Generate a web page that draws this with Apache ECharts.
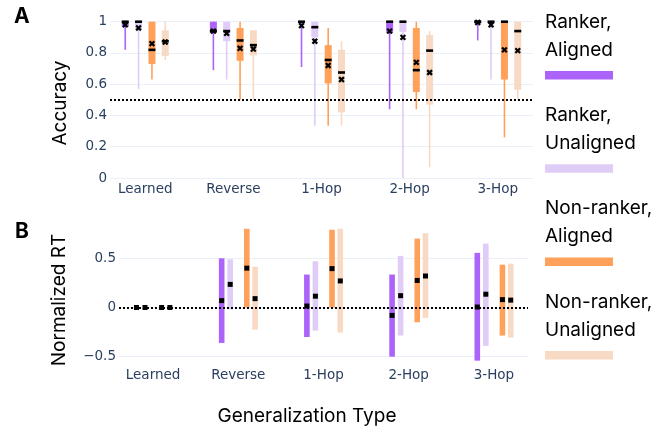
<!DOCTYPE html>
<html>
<head>
<meta charset="utf-8">
<script src="https://cdn.jsdelivr.net/npm/echarts@6/dist/echarts.min.js"></script>
<style>
  html, body { margin: 0; padding: 0; background: #fff; }
  #main { width: 669px; height: 428px; }
</style>
</head>
<body>
<div id="main"></div>
<script>
const categories = ['Learned', 'Reverse', '1-Hop', '2-Hop', '3-Hop'];
const groups = ['Ranker, Aligned', 'Ranker, Unaligned', 'Non-ranker, Aligned', 'Non-ranker, Unaligned'];

// accuracy per category: [min, q1, median, q3, max, mean]
const accRankerAligned = [
    [0.82, 0.97, 1.0, 1.0, 1.0, 0.98],
    [0.69, 0.93, 0.94, 1.0, 1.0, 0.94],
    [0.71, 0.99, 1.0, 1.0, 1.0, 0.975],
    [0.44, 0.93, 1.0, 1.0, 1.0, 0.94],
    [0.88, 0.99, 1.0, 1.0, 1.0, 0.995]
];
const accRankerUnaligned = [
    [0.57, 0.95, 1.0, 1.0, 1.0, 0.96],
    [0.63, 0.875, 0.94, 1.0, 1.0, 0.925],
    [0.335, 0.9, 0.965, 1.0, 1.0, 0.875],
    [0.0, 0.935, 1.0, 1.0, 1.0, 0.9],
    [0.63, 0.985, 1.0, 1.0, 1.0, 0.98]
];
const accNonRankerAligned = [
    [0.63, 0.73, 0.82, 1.0, 1.0, 0.86],
    [0.5, 0.75, 0.88, 0.96, 1.0, 0.83],
    [0.335, 0.605, 0.755, 0.85, 0.96, 0.72],
    [0.44, 0.55, 0.69, 0.96, 1.0, 0.74],
    [0.26, 0.63, 1.0, 1.0, 1.0, 0.82]
];
const accNonRankerUnaligned = [
    [0.755, 0.78, 0.875, 0.945, 1.0, 0.87],
    [0.5, 0.785, 0.85, 0.945, 0.945, 0.825],
    [0.335, 0.42, 0.675, 0.82, 0.875, 0.63],
    [0.07, 0.47, 0.815, 0.915, 0.94, 0.675],
    [0.5, 0.565, 0.94, 1.0, 1.0, 0.815]
];

// normalized RT per category: [low, median, high]
const rtRankerAligned = [[0, 0, 0], [-0.36, 0.07, 0.5], [-0.3, 0.015, 0.335], [-0.5, -0.08, 0.335], [-0.54, 0.005, 0.555]];
const rtRankerUnaligned = [[0, 0, 0], [-0.02, 0.235, 0.49], [-0.235, 0.115, 0.47], [-0.285, 0.12, 0.525], [-0.39, 0.135, 0.65]];
const rtNonRankerAligned = [[0, 0, 0], [0, 0.4, 0.8], [0, 0.395, 0.79], [-0.15, 0.275, 0.7], [-0.285, 0.08, 0.435]];
const rtNonRankerUnaligned = [[0, 0, 0], [-0.225, 0.09, 0.415], [-0.255, 0.27, 0.8], [-0.105, 0.32, 0.755], [-0.305, 0.075, 0.445]];

const accTicks = [0, 0.2, 0.4, 0.6, 0.8, 1];
const rtTicks = [-0.5, 0, 0.5];
const chanceLevel = 0.5;
const rtBaseline = 0;

const accData = [accRankerAligned, accRankerUnaligned, accNonRankerAligned, accNonRankerUnaligned];
const rtData = [rtRankerAligned, rtRankerUnaligned, rtNonRankerAligned, rtNonRankerUnaligned];

const colors = ['#ab63fa', '#e0cdf7', '#ffa15a', '#f8d9c3'];
const boxOffsets = [-0.227, -0.076, 0.076, 0.227];
const rtOffsets = [-0.195, -0.095, 0.1, 0.197];
const tickColor = '#2a3f5f';
const gridColor = '#ebf0f8';

function makeBoxRenderer(offset, color) {
    return function (params, api) {
        const x = api.value(0) + offset;
        const p = k => api.coord([x, api.value(k)]);
        const lo = p(1), q1 = p(2), med = p(3), q3 = p(4), hi = p(5), mean = p(6);
        const cx = lo[0], w = 7, s = 2.4;
        return {
            type: 'group',
            children: [
                {type: 'rect', shape: {x: cx - 0.8, y: hi[1], width: 1.6, height: lo[1] - hi[1]}, style: {fill: color}},
                {type: 'rect', shape: {x: cx - w / 2, y: q3[1], width: w, height: q1[1] - q3[1]}, style: {fill: color}},
                {type: 'rect', shape: {x: cx - w / 2, y: med[1] - 1.3, width: w, height: 2.6}, style: {fill: '#000'}},
                {type: 'line', shape: {x1: cx - s, y1: mean[1] - s, x2: cx + s, y2: mean[1] + s}, style: {stroke: '#000', lineWidth: 2.2}},
                {type: 'line', shape: {x1: cx - s, y1: mean[1] + s, x2: cx + s, y2: mean[1] - s}, style: {stroke: '#000', lineWidth: 2.2}}
            ]
        };
    };
}

function makeRangeRenderer(offset, color) {
    return function (params, api) {
        const x = api.value(0) + offset;
        const lo = api.coord([x, api.value(1)]);
        const med = api.coord([x, api.value(2)]);
        const hi = api.coord([x, api.value(3)]);
        const cx = lo[0], w = 5.6, m = 5;
        return {
            type: 'group',
            children: [
                {type: 'rect', shape: {x: cx - w / 2, y: hi[1], width: w, height: lo[1] - hi[1]}, style: {fill: color}},
                {type: 'rect', shape: {x: cx - m / 2, y: med[1] - m / 2, width: m, height: m}, style: {fill: '#000'}}
            ]
        };
    };
}

const tickFont = {color: tickColor, fontFamily: 'DejaVu Sans', fontSize: 13.5};

const series = [];
accData.forEach((rows, g) => {
    series.push({
        name: groups[g],
        type: 'custom',
        xAxisIndex: 0,
        yAxisIndex: 0,
        renderItem: makeBoxRenderer(boxOffsets[g], colors[g]),
        data: rows.map((d, i) => [i].concat(d))
    });
});
rtData.forEach((rows, g) => {
    series.push({
        name: groups[g],
        type: 'custom',
        xAxisIndex: 1,
        yAxisIndex: 1,
        renderItem: makeRangeRenderer(rtOffsets[g], colors[g]),
        data: rows.map((d, i) => [i].concat(d))
    });
});
const dotted = {color: '#000', type: [2, 2], width: 1.8};
series.push({
    type: 'line', xAxisIndex: 0, yAxisIndex: 0, data: [], z: 10,
    markLine: {silent: true, symbol: 'none', label: {show: false}, lineStyle: dotted, data: [{yAxis: chanceLevel}]}
});
series.push({
    type: 'line', xAxisIndex: 1, yAxisIndex: 1, data: [], z: 1,
    markLine: {silent: true, symbol: 'none', label: {show: false}, lineStyle: dotted, data: [{yAxis: rtBaseline}]}
});

const legendItems = [];
groups.forEach((name, k) => {
    const dy = 93.3 * k;
    legendItems.push({
        type: 'text',
        style: {x: 545, y: 36 + dy, text: name.replace(', ', ',\n'), font: '19px Inter', lineHeight: 28, verticalAlign: 'middle', fill: '#000'}
    });
    legendItems.push({
        type: 'rect',
        shape: {x: 545, y: 71 + dy, width: 68, height: 8.5},
        style: {fill: colors[k]}
    });
});

const xAxisBase = {
    type: 'value',
    min: -0.4,
    max: 4.4,
    axisLine: {show: false},
    axisTick: {show: false},
    splitLine: {show: false}
};

const option = {
    animation: false,
    grid: [
        {left: 110, right: 136, top: 21.7, height: 156.3},
        {left: 119, right: 141, top: 258.3, height: 98.4}
    ],
    xAxis: [
        Object.assign({}, xAxisBase, {
            gridIndex: 0,
            axisLabel: Object.assign({}, tickFont, {margin: 4, customValues: [0, 1, 2, 3, 4], formatter: v => categories[v]})
        }),
        Object.assign({}, xAxisBase, {
            gridIndex: 1,
            axisLabel: Object.assign({}, tickFont, {margin: 12, customValues: [0, 1, 2, 3, 4], formatter: v => categories[v]})
        })
    ],
    yAxis: [
        {
            type: 'value', gridIndex: 0, min: accTicks[0], max: accTicks[accTicks.length - 1], interval: 0.2,
            axisLine: {show: false}, axisTick: {show: false},
            splitLine: {lineStyle: {color: gridColor}},
            axisLabel: Object.assign({}, tickFont, {margin: 3})
        },
        {
            type: 'value', gridIndex: 1, min: rtTicks[0], max: rtTicks[rtTicks.length - 1], interval: 0.5,
            axisLine: {show: false}, axisTick: {show: false},
            splitLine: {lineStyle: {color: gridColor}},
            axisLabel: Object.assign({}, tickFont, {margin: 3, formatter: v => v < 0 ? '\u2212' + Math.abs(v) : String(v)})
        }
    ],
    graphic: [
        {type: 'text', style: {x: 14, y: 17, text: 'A', font: 'bold 21px Inter', verticalAlign: 'middle', fill: '#000'}},
        {type: 'text', style: {x: 15, y: 232, text: 'B', font: 'bold 21px Inter', verticalAlign: 'middle', fill: '#000'}},
        {type: 'text', x: 60, y: 103, rotation: Math.PI / 2, style: {text: 'Accuracy', font: '19px Inter', align: 'center', verticalAlign: 'middle', fill: '#000'}},
        {type: 'text', x: 59, y: 300, rotation: Math.PI / 2, style: {text: 'Normalized RT', font: '19px Inter', align: 'center', verticalAlign: 'middle', fill: '#000'}},
        {type: 'text', x: 307, y: 416, style: {text: 'Generalization Type', font: '19px Inter', align: 'center', verticalAlign: 'middle', fill: '#000'}}
    ].concat(legendItems),
    series: series
};

const chart = echarts.init(document.getElementById('main'));
chart.setOption(option);
</script>
</body>
</html>
